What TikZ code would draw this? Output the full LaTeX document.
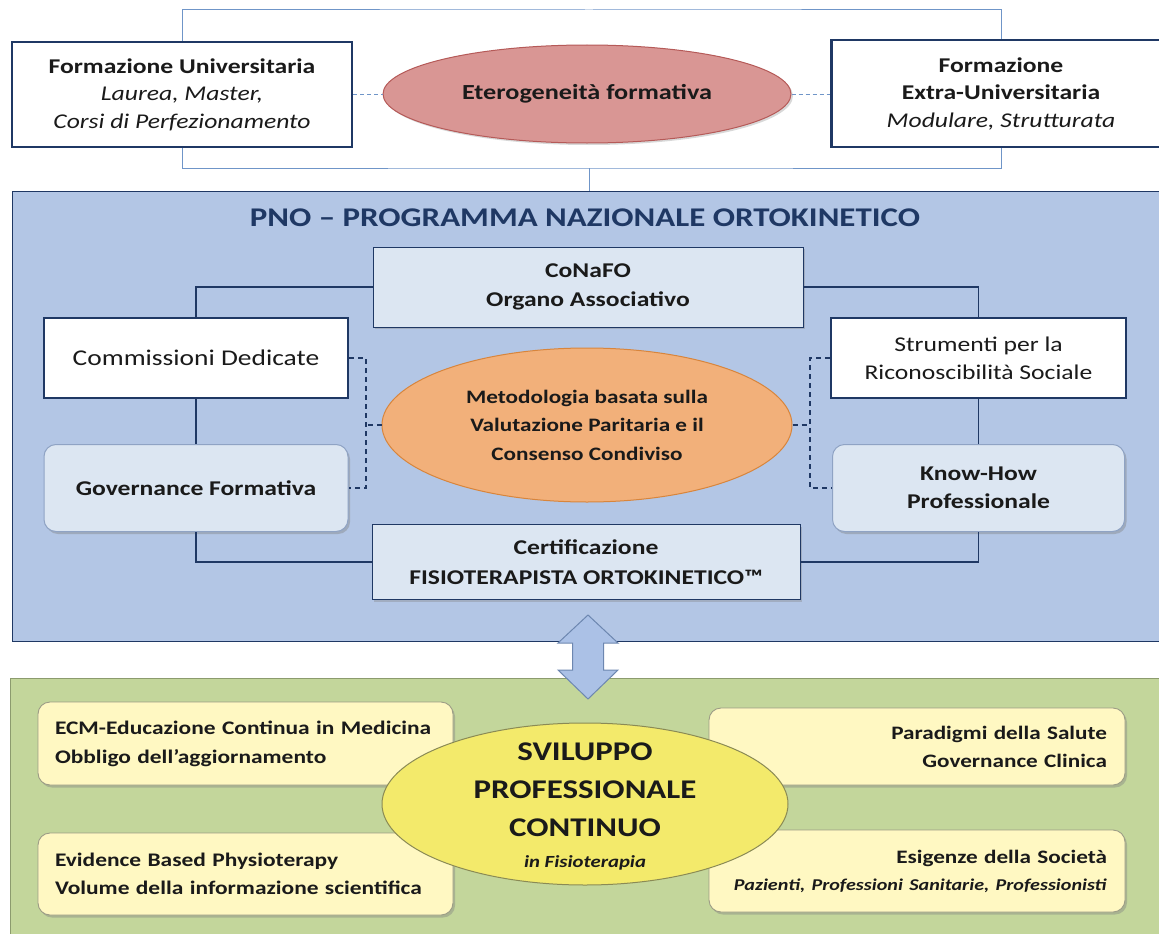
\documentclass[tikz,border=0pt]{standalone}
\usepackage{fontspec}
\setmainfont{Carlito}[FakeStretch=1.22]
\usetikzlibrary{shapes.geometric,shadows}
\definecolor{navy}{HTML}{1F3864}
\definecolor{lineblue}{HTML}{6F95C8}
\definecolor{pnofill}{HTML}{B3C6E5}
\definecolor{lightbox}{HTML}{DCE6F2}
\definecolor{rborder}{HTML}{8FA3C4}
\definecolor{eterfill}{HTML}{D99694}
\definecolor{eterdraw}{HTML}{B55A58}
\definecolor{orfill}{HTML}{F2B07A}
\definecolor{ordraw}{HTML}{D8853C}
\definecolor{greenfill}{HTML}{C3D69B}
\definecolor{greendraw}{HTML}{8C9B6E}
\definecolor{yboxfill}{HTML}{FFF8C2}
\definecolor{yboxdraw}{HTML}{9C9C86}
\definecolor{yellfill}{HTML}{F3EA6B}
\definecolor{yelldraw}{HTML}{8A8A55}
\definecolor{arrfill}{HTML}{ABC1E6}
\definecolor{arrdraw}{HTML}{6D87B0}
\definecolor{txt}{HTML}{1A1A1A}
\tikzset{
  every node/.style={text=txt, inner sep=0pt},
  fs/.style n args={2}{font=\fontsize{#1}{#2}\selectfont},
  whitebox/.style={draw=navy, line width=2.4pt, fill=white, rectangle, align=center},
  lightrect/.style={draw=navy, line width=0.9pt, fill=lightbox, rectangle, align=center,
    drop shadow={shadow xshift=2pt, shadow yshift=-2pt, opacity=0.35}},
  roundbox/.style={draw=rborder, line width=1pt, fill=lightbox, rounded corners=12pt, rectangle, align=center,
    drop shadow={shadow xshift=2pt, shadow yshift=-2.5pt, opacity=0.4}},
  ybox/.style={draw=yboxdraw, line width=0.9pt, fill=yboxfill, rounded corners=12pt, rectangle,
    drop shadow={shadow xshift=2pt, shadow yshift=-2.5pt, opacity=0.4}},
  solidlink/.style={draw=navy, line width=1.6pt},
  dashlink/.style={draw=navy, line width=1.3pt, dash pattern=on 5pt off 4pt},
  toplink/.style={draw=lineblue, line width=1pt},
  topdash/.style={draw=lineblue, line width=1pt, dash pattern=on 4pt off 3pt},
}
\begin{document}
\begin{tikzpicture}[x=1pt,y=-1pt]
\useasboundingbox (0,0) rectangle (1159,934);
\clip (0,0) rectangle (1159,934);
\fill[white] (0,0) rectangle (1159,934);

% ---------- top part ----------
\node[whitebox, minimum width=340pt, minimum height=105pt, fs={21}{27.5}] (univ) at (182,94.5)
  {\textbf{Formazione Universitaria}\\\textit{Laurea, Master,}\\\textit{Corsi di Perfezionamento}};
\node[whitebox, minimum width=339pt, minimum height=107pt, fs={21}{27.5}] (extra) at (1001,93.5)
  {\textbf{Formazione}\\\textbf{Extra-Universitaria}\\\textit{Modulare, Strutturata}};
\coordinate (hub) at (589,168);
\coordinate (toptop) at (589,10);

% ---------- PNO box ----------
\node[rectangle, draw=navy, line width=1pt, fill=pnofill, minimum width=1160pt, minimum height=450pt] (pno) at (592,416) {};

\path[toplink] (univ.north) |- (toptop) -| (extra.north);
\path[toplink] (univ.south) |- (hub) -| (extra.south);
\path[toplink] (hub) -- (hub |- pno.north);

\node[ellipse, draw=eterdraw, line width=1pt, fill=eterfill, minimum width=408pt, minimum height=98pt, fs={21.5}{24},
  drop shadow={shadow xshift=2pt, shadow yshift=-2pt, opacity=0.3}] (eter) at (587,94) {\textbf{Eterogeneità formativa}};
\path[topdash] (univ.east |- eter.west) -- (eter.west);
\path[topdash] (eter.east) -- (extra.west |- eter.east);

\node[fs={27}{30}, text=navy] (title) at (585,218) {\textbf{PNO – PROGRAMMA NAZIONALE ORTOKINETICO}};

\node[lightrect, minimum width=430pt, minimum height=80pt, fs={21}{29}] (conafo) at (588,287) {\textbf{CoNaFO}\\\textbf{Organo Associativo}};
\node[whitebox, minimum width=304pt, minimum height=80pt, fs={22.5}{28}] (comm) at (196,358) {Commissioni Dedicate};
\node[whitebox, minimum width=295pt, minimum height=80pt, fs={21}{28}] (strum) at (978.5,358) {Strumenti per la\\Riconoscibilità Sociale};
\node[roundbox, minimum width=304pt, minimum height=87pt, fs={21}{28}] (gov) at (196,488) {\textbf{Governance Formativa}};
\node[roundbox, minimum width=292pt, minimum height=87pt, fs={21}{28}] (know) at (978.5,488) {\textbf{Know-How}\\\textbf{Professionale}};
\node[lightrect, minimum width=428pt, minimum height=75pt, fs={21}{30}] (cert) at (586,562) {\textbf{Certificazione}\\\textbf{FISIOTERAPISTA ORTOKINETICO™}};
\node[ellipse, draw=ordraw, line width=1pt, fill=orfill, minimum width=410pt, minimum height=154pt, fs={19}{28.5}, align=center] (meth) at (587,425)
  {\textbf{Metodologia basata sulla}\\\textbf{Valutazione Paritaria e il}\\\textbf{Consenso Condiviso}};

\path[solidlink] (conafo.west) -| (comm.north);
\path[solidlink] (conafo.east) -| (strum.north);
\path[solidlink] (comm.south) -- (gov.north);
\path[solidlink] (strum.south) -- (know.north);
\path[solidlink] (gov.south) |- (cert.west);
\path[solidlink] (know.south) |- (cert.east);

\coordinate (lb) at (366,0);
\coordinate (rb) at (810,0);
\path[dashlink] (comm.east) -- (comm.east -| lb) -- (gov.east -| lb) -- (gov.east);
\path[dashlink] (meth.west) -- (meth.west -| lb);
\path[dashlink] (strum.west) -- (strum.west -| rb) -- (know.west -| rb) -- (know.west);
\path[dashlink] (meth.east) -- (meth.east -| rb);

% ---------- green part ----------
\node[rectangle, draw=greendraw, line width=0.9pt, fill=greenfill, minimum width=1162pt, minimum height=272pt] (green) at (591,814) {};

\node[ybox, minimum width=415pt, minimum height=83pt, fs={19.2}{29}, align=left, text width=381pt] (ecm) at (245.5,743.5)
  {\textbf{ECM-Educazione Continua in Medicina}\\\textbf{Obbligo dell’aggiornamento}};
\node[ybox, minimum width=415pt, minimum height=82pt, fs={19.2}{28}, align=left, text width=381pt] (ebp) at (245.5,874)
  {\textbf{Evidence Based Physioterapy}\\\textbf{Volume della informazione scientifica}};
\node[ybox, minimum width=416pt, minimum height=77pt, fs={19}{28}, align=right, text width=380pt] (para) at (917,746.5)
  {\textbf{Paradigmi della Salute}\\\textbf{Governance Clinica}};
\node[ybox, minimum width=416pt, minimum height=82pt, fs={19}{27}, align=right, text width=380pt] (esig) at (917,871)
  {\textbf{Esigenze della Società}\\{\fontsize{16.5}{27}\selectfont\textbf{\textit{Pazienti, Professioni Sanitarie, Professionisti}}}};

\node[ellipse, draw=yelldraw, line width=1pt, fill=yellfill, minimum width=406pt, minimum height=162pt, align=center] (svil) at (585,804) {};
\node[fs={27}{38}, align=center] (sviltxt) at (585,790) {\textbf{SVILUPPO}\\\textbf{PROFESSIONALE}\\\textbf{CONTINUO}};
\node[fs={17}{20}] (svilsub) at (585,863) {\textbf{\textit{in Fisioterapia}}};

% ---------- double arrow between the two blocks ----------
\draw[draw=arrdraw, line width=1pt, fill=arrfill, line join=miter]
  (588,615) -- (618,643) -- (603.5,643) -- (603.5,670) -- (618,670) -- (588,699)
  -- (558,670) -- (572.5,670) -- (572.5,643) -- (558,643) -- cycle;
\end{tikzpicture}
\end{document}
